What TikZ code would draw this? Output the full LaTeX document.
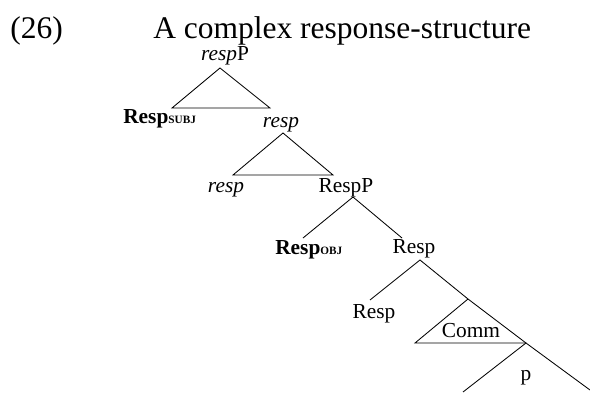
\documentclass[tikz,border=0pt]{standalone}
\usepackage{fontspec}
\setmainfont{Liberation Serif}
\usepackage{tikz}

\tikzset{
  lbl/.style={anchor=base, inner sep=0pt, font=\fontsize{15.2}{18}\selectfont},
  branch/.style={black, line width=0.6pt, line join=miter},
}
\newcommand{\subfeat}[1]{{\fontsize{8}{9}\selectfont\bfseries #1}}

\begin{document}
\begin{tikzpicture}
\useasboundingbox (0,0) rectangle (14.75,9.8);
%the heading
\node [anchor=base west, inner sep=0pt, font=\fontsize{22.4}{26}\selectfont] (exnum) at (0.25, 8.85) {(26)};
\node [anchor=base west, inner sep=0pt, font=\fontsize{22.4}{26}\selectfont] (title) at (3.825, 8.85) {A complex response-structure};

%the labels
\node [lbl] (respP) at (5.625, 8.3) {\textit{resp}P};
\node [lbl, anchor=base west] (respSubj) at (3.075, 6.725) {\textbf{Resp}\subfeat{SUBJ}};
\node [lbl] (respHi) at (7.025, 6.625) {\textit{resp}};
\node [lbl] (respLo) at (5.65, 5.0) {\textit{resp}};
\node [lbl] (RespP) at (8.65, 5.0) {RespP};
\node [lbl, anchor=base west] (respObj) at (6.875, 3.45) {\textbf{Resp}\subfeat{OBJ}};
\node [lbl] (RespBar) at (10.35, 3.475) {Resp};
\node [lbl] (RespHead) at (9.35, 1.85) {Resp};
\node [lbl] (comm) at (11.775, 1.375) {Comm};
\node [lbl] (pp) at (13.15, 0.3) {p};

%branch points
\coordinate (a1) at (5.5, 8.1);
\coordinate (a1l) at (4.3, 7.1);
\coordinate (a1r) at (6.75, 7.1);
\coordinate (a2) at (7.075, 6.475);
\coordinate (a2l) at (5.825, 5.425);
\coordinate (a2r) at (8.325, 5.425);
\coordinate (b1) at (8.825, 4.875);
\coordinate (b1l) at (7.575, 3.85);
\coordinate (b1r) at (10.05, 3.85);
\coordinate (c1) at (10.5, 3.3);
\coordinate (c1l) at (9.25, 2.3);
\coordinate (c1m) at (11.7, 2.325);
\coordinate (d1) at (13.15, 1.225);
\coordinate (d1l) at (10.375, 1.225);
\coordinate (e1l) at (11.575, 0);
\coordinate (e1r) at (14.75, 0.05);

%the triangles
\draw [branch] (a1) -- (a1l) -- (a1r) -- cycle;
\draw [branch] (a2) -- (a2l) -- (a2r) -- cycle;
\draw [branch] (c1m) -- (d1l) -- (d1);

%the branches
\draw [branch] (b1l) -- (b1) -- (b1r);
\draw [branch] (c1l) -- (c1) -- (c1m) -- (d1);
\draw [branch] (e1l) -- (d1) -- (e1r);
\end{tikzpicture}
\end{document}
